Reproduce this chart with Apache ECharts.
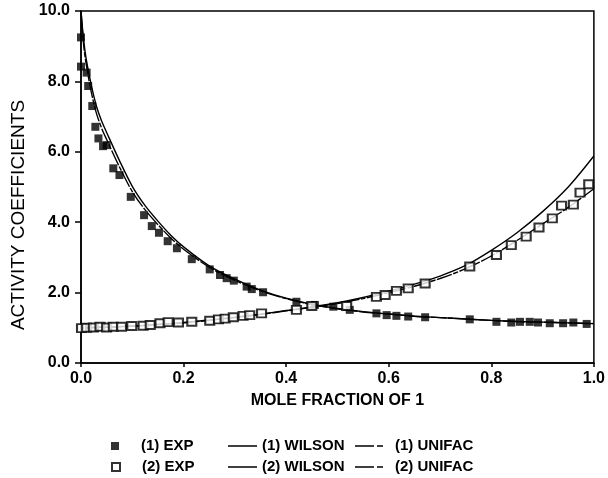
<!DOCTYPE html>
<html>
<head>
<meta charset="utf-8">
<script src="https://cdn.jsdelivr.net/npm/echarts@6/dist/echarts.min.js"></script>
<style>
  html, body { margin: 0; padding: 0; background: #fff; }
  #chart { width: 608px; height: 478px; }
</style>
</head>
<body>
<div id="chart"></div>
<script>
// Measured activity coefficients, component (1)
const exp1X = [0.000, 0.000, 0.011, 0.014, 0.022, 0.028, 0.034, 0.043, 0.050, 0.063, 0.075, 0.097, 0.123, 0.138, 0.152, 0.169, 0.187, 0.216, 0.251, 0.271, 0.284, 0.298, 0.323, 0.333, 0.355, 0.420, 0.456, 0.492, 0.524, 0.576, 0.596, 0.615, 0.638, 0.671, 0.758, 0.810, 0.839, 0.856, 0.875, 0.891, 0.914, 0.940, 0.960, 0.986];
const exp1Y = [9.25, 8.42, 8.25, 7.87, 7.30, 6.71, 6.38, 6.16, 6.19, 5.53, 5.34, 4.72, 4.20, 3.89, 3.70, 3.46, 3.26, 2.95, 2.66, 2.50, 2.41, 2.34, 2.17, 2.10, 2.01, 1.74, 1.65, 1.60, 1.51, 1.41, 1.36, 1.34, 1.32, 1.30, 1.24, 1.17, 1.15, 1.17, 1.17, 1.15, 1.13, 1.13, 1.15, 1.11];

// Measured activity coefficients, component (2)
const exp2X = [0.001, 0.011, 0.024, 0.037, 0.050, 0.063, 0.079, 0.099, 0.121, 0.135, 0.154, 0.170, 0.190, 0.216, 0.251, 0.268, 0.281, 0.297, 0.316, 0.329, 0.352, 0.420, 0.450, 0.518, 0.576, 0.593, 0.615, 0.638, 0.671, 0.758, 0.810, 0.839, 0.868, 0.893, 0.919, 0.937, 0.960, 0.973, 0.990];
const exp2Y = [0.99, 1.00, 1.01, 1.03, 1.01, 1.03, 1.03, 1.05, 1.06, 1.08, 1.13, 1.16, 1.15, 1.17, 1.20, 1.24, 1.26, 1.30, 1.34, 1.36, 1.41, 1.51, 1.62, 1.62, 1.88, 1.93, 2.05, 2.12, 2.26, 2.74, 3.07, 3.35, 3.59, 3.85, 4.11, 4.47, 4.50, 4.84, 5.08];

// Model curves sampled on a common mole-fraction grid
const curveX   = [0, 0.005, 0.01, 0.02, 0.03, 0.04, 0.05, 0.075, 0.1, 0.125, 0.15, 0.175, 0.2, 0.25, 0.3, 0.35, 0.4, 0.45, 0.5, 0.55, 0.6, 0.65, 0.7, 0.75, 0.8, 0.85, 0.9, 0.95, 1.0];
const wilson1  = [10.0, 9.2, 8.65, 7.9, 7.3, 6.88, 6.55, 5.75, 5.02, 4.47, 4.03, 3.63, 3.3, 2.76, 2.38, 2.07, 1.84, 1.67, 1.55, 1.46, 1.39, 1.33, 1.29, 1.25, 1.21, 1.18, 1.16, 1.14, 1.12];
const unifac1  = [10.0, 9.05, 8.5, 7.7, 7.1, 6.68, 6.35, 5.57, 4.87, 4.35, 3.93, 3.55, 3.23, 2.72, 2.35, 2.05, 1.83, 1.66, 1.54, 1.45, 1.39, 1.33, 1.29, 1.25, 1.21, 1.18, 1.16, 1.14, 1.12];
const wilson2  = [1.0, 1.0, 1.0, 1.01, 1.01, 1.02, 1.02, 1.03, 1.05, 1.07, 1.1, 1.12, 1.15, 1.22, 1.30, 1.39, 1.49, 1.59, 1.71, 1.86, 2.04, 2.24, 2.47, 2.77, 3.2, 3.7, 4.3, 5.0, 5.88];
const unifac2  = [1.0, 1.0, 1.0, 1.01, 1.01, 1.02, 1.02, 1.03, 1.05, 1.07, 1.09, 1.11, 1.14, 1.21, 1.29, 1.38, 1.48, 1.58, 1.69, 1.83, 2.0, 2.18, 2.4, 2.68, 3.04, 3.48, 3.95, 4.42, 4.95];

const seriesNames = ['(1) EXP', '(2) EXP', '(1) WILSON', '(2) WILSON', '(1) UNIFAC', '(2) UNIFAC'];

const FONT = "'Liberation Sans', Arial, Helvetica, sans-serif";
const pairs = (xs, ys) => xs.map((x, i) => [x, ys[i]]);
const unifacDash = [16, 1.5, 5, 1.5];

// Legend keys: plain stroke for Wilson, long-short dash for UNIFAC
const solidKey = 'path://M0 0H29V1.5H0Z';
const dashKey = 'path://M0 0H19V1.5H0Z M22 0H28V1.5H22Z';

function textStyleWith(padLeft) {
  return { fontFamily: FONT, fontWeight: 'bold', fontSize: 15, color: '#000', lineHeight: 16, padding: [0, 0, 0, padLeft] };
}

function legendAt(name, icon, left, top, w, h, padLeft) {
  return {
    data: [{ name: name, icon: icon }],
    left: left,
    top: top,
    padding: 0,
    orient: 'horizontal',
    selectedMode: false,
    itemWidth: w,
    itemHeight: h,
    textStyle: textStyleWith(padLeft)
  };
}

const chart = echarts.init(document.getElementById('chart'), null, { renderer: 'canvas' });

chart.setOption({
  backgroundColor: '#fff',
  animation: false,
  grid: {
    left: 81, right: 14, top: 11, bottom: 115,
    show: true, borderColor: '#000', borderWidth: 1.5, backgroundColor: 'transparent'
  },
  legend: [
    legendAt(seriesNames[0], 'rect', 111, 438, 8, 8, 17),
    legendAt(seriesNames[1], 'emptyRect', 111, 459, 8, 8, 17),
    legendAt(seriesNames[2], solidKey, 228, 438, 29, 1.5, 0),
    legendAt(seriesNames[3], solidKey, 228, 459, 29, 1.5, 0),
    legendAt(seriesNames[4], dashKey, 355, 438, 28, 1.5, 7),
    legendAt(seriesNames[5], dashKey, 355, 459, 28, 1.5, 7)
  ],
  xAxis: {
    type: 'value',
    min: 0, max: 1, interval: 0.2,
    name: 'MOLE FRACTION OF 1',
    nameLocation: 'middle',
    nameGap: 30,
    nameTextStyle: { fontFamily: FONT, fontWeight: 'bold', fontSize: 16, color: '#000' },
    axisLine: { lineStyle: { color: '#000', width: 1.5 } },
    axisTick: { show: true, inside: false, length: 4, lineStyle: { color: '#000', width: 1.5 } },
    axisLabel: {
      margin: 8, color: '#000', fontFamily: FONT, fontWeight: 'bold', fontSize: 16,
      formatter: v => v.toFixed(1)
    },
    splitLine: { show: false }
  },
  yAxis: {
    type: 'value',
    min: 0, max: 10, interval: 2,
    name: 'ACTIVITY COEFFICIENTS',
    nameLocation: 'middle',
    nameGap: 53,
    nameTextStyle: { fontFamily: FONT, fontSize: 19, color: '#000', padding: [0, 56, 0, 0] },
    axisLine: { lineStyle: { color: '#000', width: 1.5 } },
    axisTick: { show: true, inside: false, length: 6, lineStyle: { color: '#000', width: 1.5 } },
    axisLabel: {
      margin: 11, color: '#000', fontFamily: FONT, fontWeight: 'bold', fontSize: 16,
      formatter: v => v.toFixed(1)
    },
    splitLine: { show: false }
  },
  series: [
    {
      name: seriesNames[0], type: 'scatter', symbol: 'rect', symbolSize: [8, 8],
      itemStyle: { color: '#000' }, z: 5,
      data: pairs(exp1X, exp1Y)
    },
    {
      name: seriesNames[1], type: 'scatter', symbol: 'emptyRect', symbolSize: [9, 8],
      itemStyle: { color: '#000', borderColor: '#000', borderWidth: 1.2 }, z: 5,
      data: pairs(exp2X, exp2Y)
    },
    {
      name: seriesNames[2], type: 'line', smooth: 0.3, symbol: 'none', showSymbol: false,
      lineStyle: { color: '#000', width: 1.4, type: 'solid' }, itemStyle: { color: '#000' },
      data: pairs(curveX, wilson1)
    },
    {
      name: seriesNames[3], type: 'line', smooth: 0.3, symbol: 'none', showSymbol: false,
      lineStyle: { color: '#000', width: 1.4, type: 'solid' }, itemStyle: { color: '#000' },
      data: pairs(curveX, wilson2)
    },
    {
      name: seriesNames[4], type: 'line', smooth: 0.3, symbol: 'none', showSymbol: false,
      lineStyle: { color: '#000', width: 1.4, type: unifacDash }, itemStyle: { color: '#000' },
      data: pairs(curveX, unifac1)
    },
    {
      name: seriesNames[5], type: 'line', smooth: 0.3, symbol: 'none', showSymbol: false,
      lineStyle: { color: '#000', width: 1.4, type: unifacDash }, itemStyle: { color: '#000' },
      data: pairs(curveX, unifac2)
    }
  ]
});
</script>
</body>
</html>
